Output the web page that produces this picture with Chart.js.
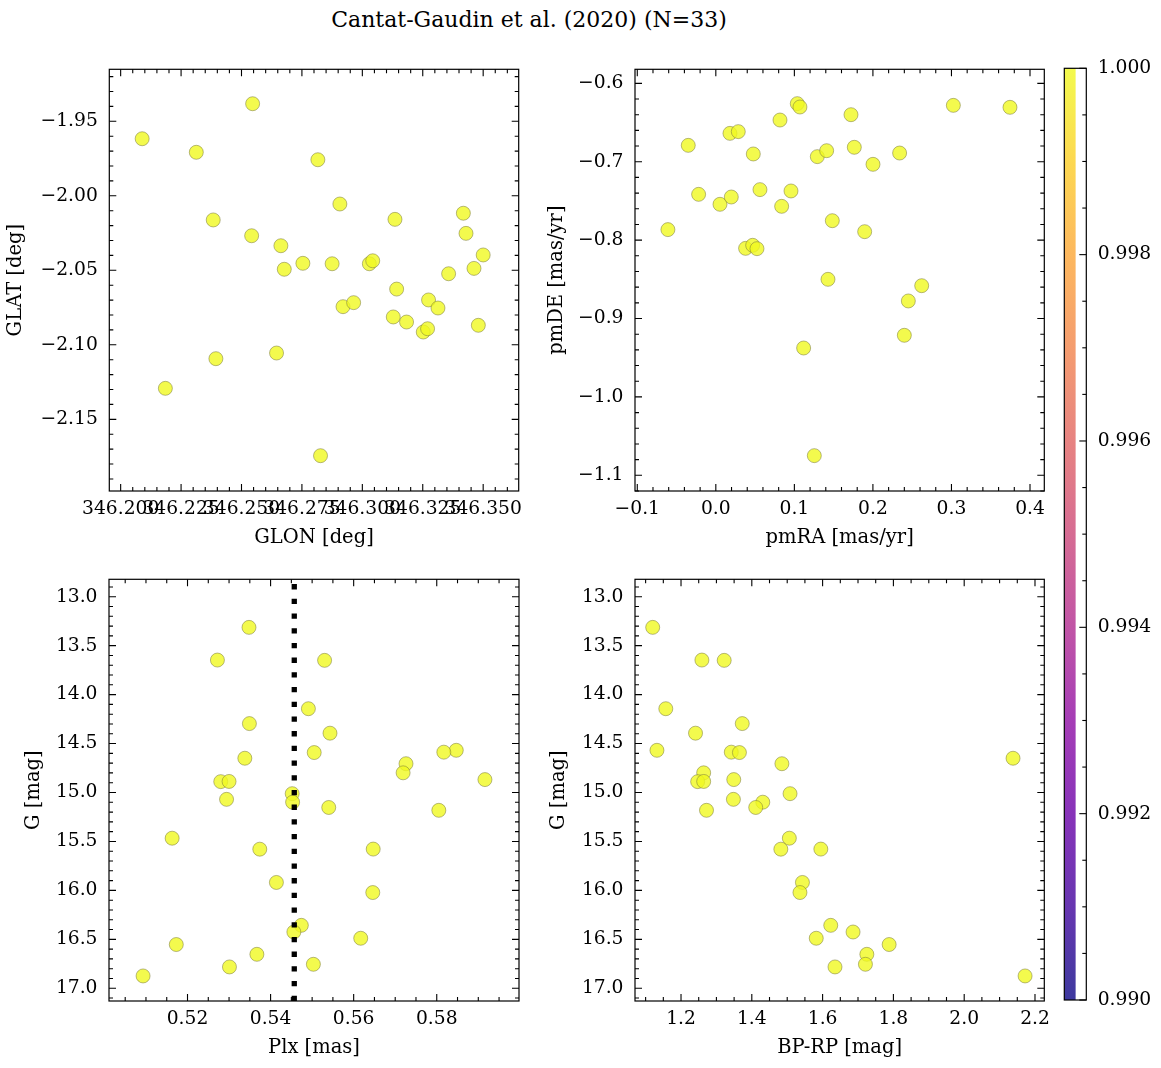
<!DOCTYPE html>
<html><head><meta charset="utf-8">
<script src="https://cdn.jsdelivr.net/npm/chart.js@4.4.1/dist/chart.umd.min.js"></script>
<style>
html,body{margin:0;padding:0;background:#fff;width:1161px;height:1068px;overflow:hidden;position:relative;}
canvas{position:absolute;}
#title{position:absolute;left:0;width:1058px;top:7px;line-height:26px;text-align:center;font-family:"DejaVu Serif";font-size:22px;color:#000;}
</style></head><body>
<div id="title">Cantat-Gaudin et al. (2020) (N=33)</div>
<canvas id="c1" width="540" height="510" style="left:0px;top:50px;width:540px;height:510px"></canvas>
<canvas id="c2" width="520" height="510" style="left:540px;top:50px;width:520px;height:510px"></canvas>
<canvas id="c3" width="540" height="508" style="left:0px;top:560px;width:540px;height:508px"></canvas>
<canvas id="c4" width="520" height="508" style="left:540px;top:560px;width:520px;height:508px"></canvas>
<canvas id="cb" width="121" height="970" style="left:1040px;top:50px;width:121px;height:970px"></canvas>
<script>
// ---------------- DATA ----------------
const TITLE = "Cantat-Gaudin et al. (2020) (N=33)";
// Panel 1: galactic coordinates
const glon = [346.2089,346.2185,346.2313,346.2546,346.2383,346.2394,346.2542,346.2663,346.2677,346.2645,346.2754,
  346.2816,346.2827,346.2875,346.2907,346.2920,346.2964,346.3029,346.3043,346.3135,346.3142,346.3128,
  346.3183,346.3252,346.3270,346.3274,346.3313,346.3357,346.3418,346.3429,346.3462,346.3500,346.3480];
const glat = [-1.9617,-2.1292,-1.9708,-1.9382,-2.0162,-2.1093,-2.0268,-2.0335,-2.0493,-2.1055,-2.0453,
  -1.9758,-2.1744,-2.0456,-2.0055,-2.0744,-2.0717,-2.0456,-2.0436,-2.0158,-2.0626,-2.0813,
  -2.0847,-2.0914,-2.0892,-2.0699,-2.0753,-2.0523,-2.0117,-2.0252,-2.0487,-2.0397,-2.0869];
// Panel 2: proper motions
const pmra = [-0.061,-0.0351,-0.0219,0.0053,0.018,0.0197,0.0286,0.0379,0.0469,0.0524,0.0477,0.0562,0.0817,
  0.0838,0.0957,0.1037,0.1071,0.1118,0.1254,0.1292,0.1411,0.1428,0.1483,0.1721,0.1763,0.1895,0.2001,
  0.234,0.24,0.2451,0.2621,0.3024,0.3745];
const pmde = [-0.7866,-0.6791,-0.7416,-0.7543,-0.6638,-0.745,-0.6616,-0.8105,-0.8066,-0.8109,-0.6901,-0.7356,-0.6468,
  -0.7569,-0.7373,-0.6259,-0.6302,-0.9376,-1.0749,-0.6935,-0.6859,-0.85,-0.7752,-0.64,-0.6816,-0.7892,-0.7033,
  -0.6889,-0.9214,-0.8776,-0.8581,-0.6281,-0.6306];
// Panels 3 & 4: photometry and parallax (same star order)
const gmag = [13.313,13.647,13.650,14.144,14.296,14.394,14.569,14.588,14.592,14.650,14.706,14.799,14.889,14.887,
  14.868,15.012,15.070,15.099,15.153,15.182,15.467,15.579,15.578,15.919,16.022,16.357,16.425,16.489,16.553,
  16.653,16.755,16.782,16.874];
const plx = [0.5348,0.5272,0.5530,0.5491,0.5349,0.5543,0.5847,0.5817,0.5505,0.5338,0.5726,0.5719,0.5280,0.5300,
  0.5916,0.5452,0.5294,0.5453,0.5540,0.5805,0.5163,0.5374,0.5647,0.5414,0.5646,0.5474,0.5456,0.5617,0.5173,
  0.5367,0.5503,0.5301,0.5093];
const bprp = [1.120,1.259,1.322,1.157,1.373,1.241,1.132,1.342,1.365,2.138,1.485,1.264,1.247,1.264,1.349,1.508,
  1.348,1.431,1.411,1.272,1.506,1.482,1.595,1.543,1.536,1.623,1.686,1.582,1.788,1.725,1.721,1.635,2.172];
const plxRef = 0.5457; // vertical dotted reference line
// colour value of every member (membership probability) and colourbar range
const proba = new Array(33).fill(1.0);
const cbarRange = [0.990, 1.000];
const cbarTicks = [0.990, 0.992, 0.994, 0.996, 0.998, 1.000];

// ---------------- STYLE ----------------
const FONT = "DejaVu Serif";
Chart.defaults.font.family = FONT;
Chart.defaults.color = '#000';
const TICKF = 18.7, LABF = 19.5;
const plasma = ['#0d0887','#41049d','#6a00a8','#8f0da4','#b12a90','#cc4778','#e16462','#f2844b','#fca636','#fcce25','#f0f921'];
function cmap(v){ // plasma at normalized value, alpha 0.8
  const t = Math.min(1, Math.max(0, (v-cbarRange[0])/(cbarRange[1]-cbarRange[0])));
  const i = Math.min(9, Math.floor(t*10)), f = t*10 - i;
  const a = parseInt(plasma[i].slice(1),16), b = parseInt(plasma[i+1].slice(1),16);
  const c = s => Math.round(((a>>s)&255)*(1-f) + ((b>>s)&255)*f);
  return `rgba(${c(16)},${c(8)},${c(0)},0.8)`;
}
function fmt(v, d){ if (Math.abs(v) < 1e-12) v = 0; return (v < 0 ? '\u2212' : '') + Math.abs(v).toFixed(d); }

// frame + inward ticks on all sides
const frameTicks = {
  id: 'frameTicks',
  afterDraw(chart){
    const cfg = chart.options.plugins.frameTicks; if (!cfg) return;
    const ctx = chart.ctx, a = chart.chartArea;
    ctx.save(); ctx.strokeStyle = '#000'; ctx.lineWidth = 1.1;
    for (const id of Object.keys(cfg.minor)) {
      const s = chart.scales[id], step = cfg.minor[id];
      const majors = s.ticks.map(t => t.value);
      const lo = Math.min(s.min, s.max), hi = Math.max(s.min, s.max);
      const vals = [];
      for (let k = Math.ceil(lo/step - 1e-6); k <= Math.floor(hi/step + 1e-6); k++) {
        const v = k*step;
        vals.push([v, majors.some(m => Math.abs(m - v) < step*1e-3) ? 7 : 4]);
      }
      for (const [v, len] of vals) {
        const p = s.getPixelForValue(v);
        ctx.beginPath();
        if (s.isHorizontal()) {
          ctx.moveTo(p, a.bottom); ctx.lineTo(p, a.bottom - len);
          ctx.moveTo(p, a.top); ctx.lineTo(p, a.top + len);
        } else {
          if (cfg.sides !== 'right') { ctx.moveTo(a.left, p); ctx.lineTo(a.left + len, p); }
          ctx.moveTo(a.right, p); ctx.lineTo(a.right - len, p);
        }
        ctx.stroke();
      }
    }
    ctx.lineWidth = 1.2;
    ctx.strokeRect(a.left, a.top, a.right - a.left, a.bottom - a.top);
    ctx.restore();
  }
};
Chart.register(frameTicks);

function zeroPad(s){ s.paddingTop = 0; s.paddingBottom = 0; s.paddingLeft = 0; s.paddingRight = 0; }

function panel(id, xs, ys, o){
  const pts = xs.map((x, i) => ({x: x, y: ys[i]}));
  const datasets = [{
    type: 'scatter', data: pts, order: 1,
    pointRadius: 7, pointHoverRadius: 7,
    pointBackgroundColor: proba.map(cmap),
    pointBorderColor: 'rgba(120,120,60,0.75)', pointBorderWidth: 0.7
  }];
  if (o.vline !== undefined) {
    datasets.push({
      type: 'line', order: 0,
      data: [{x: o.vline, y: o.ymax}, {x: o.vline, y: o.ymin}],
      borderColor: '#000', borderWidth: 5.3, borderDash: [5.3, 9.4], borderCapStyle: 'butt',
      pointRadius: 0, fill: false, tension: 0
    });
  }
  return new Chart(document.getElementById(id), {
    type: 'scatter',
    data: { datasets },
    options: {
      responsive: false, animation: false, events: [],
      layout: { padding: { left: 0, top: o.padTop, right: o.padRight, bottom: 0 } },
      plugins: { legend: {display: false}, tooltip: {enabled: false},
        frameTicks: { minor: { x: o.xminor, y: o.yminor } } },
      scales: {
        x: {
          type: 'linear', min: o.xmin, max: o.xmax,
          grid: {display: false, drawTicks: false}, border: {display: false},
          ticks: { stepSize: o.xstep, includeBounds: false, autoSkip: false, maxRotation: 0, minRotation: 0,
            padding: 7.3, font: {size: TICKF}, callback: v => fmt(v, o.xdec) },
          title: { display: true, text: o.xlabel, font: {size: LABF}, padding: {top: 0, bottom: o.xtitlePad} },
          afterFit: s => { s.height = o.xaxisH; zeroPad(s); }
        },
        y: {
          type: 'linear', min: o.ymin, max: o.ymax, reverse: !!o.reverse,
          grid: {display: false, drawTicks: false}, border: {display: false},
          ticks: { stepSize: o.ystep, includeBounds: false, autoSkip: false,
            padding: 11.5, font: {size: TICKF}, callback: v => fmt(v, o.ydec) },
          title: { display: true, text: o.ylabel, font: {size: LABF}, padding: {top: o.ytitlePad, bottom: 0} },
          afterFit: s => { s.width = o.yaxisW; zeroPad(s); }
        }
      }
    }
  });
}

// Panel 1
panel('c1', glon, glat, {
  xmin: 346.1953, xmax: 346.3647, xstep: 0.025, xminor: 0.005, xdec: 3, xlabel: 'GLON [deg]',
  ymin: -2.1981, ymax: -1.9151, ystep: 0.05, yminor: 0.01, ydec: 2, ylabel: 'GLAT [deg]',
  padTop: 19.3, padRight: 21.3, yaxisW: 109.3, xaxisH: 69, xtitlePad: 10.3, ytitlePad: 4.3
});
// Panel 2
panel('c2', pmra, pmde, {
  xmin: -0.1029, xmax: 0.4182, xstep: 0.1, xminor: 0.02, xdec: 1, xlabel: 'pmRA [mas/yr]',
  ymin: -1.12, ymax: -0.5821, ystep: 0.1, yminor: 0.02, ydec: 1, ylabel: 'pmDE [mas/yr]',
  padTop: 19.3, padRight: 15.7, yaxisW: 95, xaxisH: 69, xtitlePad: 10.3, ytitlePad: 5.3
});
// Panel 3
panel('c3', plx, gmag, {
  xmin: 0.5011, xmax: 0.5998, xstep: 0.02, xminor: 0.005, xdec: 2, xlabel: 'Plx [mas]',
  ymin: 12.822, ymax: 17.13, ystep: 0.5, yminor: 0.1, ydec: 1, ylabel: 'G [mag]', reverse: true,
  padTop: 19.3, padRight: 21, yaxisW: 109, xaxisH: 67, xtitlePad: 8.3, ytitlePad: 22.3, vline: plxRef
});
// Panel 4
panel('c4', bprp, gmag, {
  xmin: 1.07, xmax: 2.2263, xstep: 0.2, xminor: 0.05, xdec: 1, xlabel: 'BP-RP [mag]',
  ymin: 12.822, ymax: 17.13, ystep: 0.5, yminor: 0.1, ydec: 1, ylabel: 'G [mag]', reverse: true,
  padTop: 19.3, padRight: 15.7, yaxisW: 95, xaxisH: 67, xtitlePad: 8.3, ytitlePad: 7.3
});

// Colourbar
new Chart(document.getElementById('cb'), {
  type: 'bar',
  data: { labels: ['p'], datasets: [{
    data: [cbarRange],
    barPercentage: 1, categoryPercentage: 1,
    borderWidth: 0,
    backgroundColor: (c) => {
      const ch = c.chart, a = ch.chartArea;
      if (!a) return cmap(1);
      const ys = ch.scales.y;
      const g = ch.ctx.createLinearGradient(0, ys.getPixelForValue(cbarRange[0]), 0, ys.getPixelForValue(cbarRange[1]));
      for (let i = 0; i <= 40; i++) {
        const v = cbarRange[0] + (cbarRange[1]-cbarRange[0])*i/40;
        g.addColorStop(i/40, cmap(v));
      }
      return g;
    }
  }]},
  options: {
    responsive: false, animation: false, events: [],
    layout: { padding: { left: 24.3, top: 18.3, right: 0, bottom: 20 } },
    plugins: { legend: {display: false}, tooltip: {enabled: false},
      frameTicks: { minor: { y: 0.0005 }, sides: 'right' } },
    scales: {
      x: { display: false, offset: false },
      y: {
        position: 'right', min: cbarRange[0], max: cbarRange[1],
        grid: {display: false, drawTicks: false}, border: {display: false},
        afterBuildTicks: s => { s.ticks = cbarTicks.map(v => ({value: v})); },
        ticks: { padding: 11.4, font: {size: TICKF}, autoSkip: false, callback: v => fmt(v, 3) },
        afterFit: s => { s.width = 74.7; zeroPad(s); }
      }
    }
  }
});
</script>
</body></html>
